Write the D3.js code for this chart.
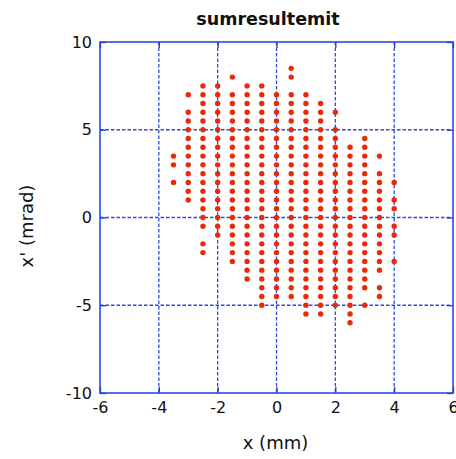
<!DOCTYPE html>
<html>
<head>
<meta charset="utf-8">
<script src="https://cdn.jsdelivr.net/npm/d3@7"></script>
<style>
  html, body { margin: 0; padding: 0; background: #ffffff; }
  svg { display: block; }
  text { font-family: "DejaVu Sans", sans-serif; fill: #111; }
</style>
</head>
<body>
<svg id="chart" width="456" height="459"></svg>
<script>
// Beam emittance sample: one row per x' value (mrad), listing the x positions (mm) hit on that row
const rowY = [8.5, 8, 7.5, 7, 6.5, 6, 5.5, 5, 4.5, 4, 3.5, 3, 2.5, 2, 1.5, 1, 0.5, 0,
              -0.5, -1, -1.5, -2, -2.5, -3, -3.5, -4, -4.5, -5, -5.5, -6];
const rowX = [
  [0.5],
  [-1.5, 0.5],
  [-2.5, -2, -1, -0.5],
  [-3, -2.5, -2, -1.5, -1, -0.5, 0, 0.5, 1],
  [-2.5, -2, -1.5, -1, -0.5, 0, 0.5, 1, 1.5],
  [-3, -2.5, -2, -1.5, -1, -0.5, 0, 0.5, 1, 1.5, 2],
  [-3, -2.5, -2, -1.5, -1, -0.5, 0, 0.5, 1, 1.5],
  [-3, -2.5, -2, -1.5, -1, -0.5, 0, 0.5, 1, 1.5, 2],
  [-3, -2.5, -2, -1.5, -1, -0.5, 0, 0.5, 1, 1.5, 2, 3],
  [-3, -2.5, -2, -1.5, -1, -0.5, 0, 0.5, 1, 1.5, 2, 2.5, 3],
  [-3.5, -3, -2.5, -2, -1.5, -1, -0.5, 0, 0.5, 1, 1.5, 2, 2.5, 3, 3.5],
  [-3.5, -3, -2.5, -2, -1.5, -1, -0.5, 0, 0.5, 1, 1.5, 2, 2.5, 3],
  [-3, -2.5, -2, -1.5, -1, -0.5, 0, 0.5, 1, 1.5, 2, 2.5, 3, 3.5],
  [-3.5, -3, -2.5, -2, -1.5, -1, -0.5, 0, 0.5, 1, 1.5, 2, 2.5, 3, 3.5, 4],
  [-3, -2.5, -2, -1.5, -1, -0.5, 0, 0.5, 1, 1.5, 2, 2.5, 3, 3.5],
  [-3, -2.5, -2, -1.5, -1, -0.5, 0, 0.5, 1, 1.5, 2, 2.5, 3, 3.5, 4],
  [-2.5, -2, -1.5, -1, -0.5, 0, 0.5, 1, 1.5, 2, 2.5, 3, 3.5, 4],
  [-2.5, -2, -1.5, -1, -0.5, 0, 0.5, 1, 1.5, 2, 2.5, 3, 3.5],
  [-2.5, -2, -1.5, -1, -0.5, 0, 0.5, 1, 1.5, 2, 2.5, 3, 3.5, 4],
  [-2, -1.5, -1, -0.5, 0, 0.5, 1, 1.5, 2, 2.5, 3, 3.5, 4],
  [-2.5, -1.5, -1, -0.5, 0, 0.5, 1, 1.5, 2, 2.5, 3, 3.5],
  [-2.5, -1.5, -1, -0.5, 0, 0.5, 1, 1.5, 2, 2.5, 3, 3.5],
  [-1.5, -1, -0.5, 0, 0.5, 1, 1.5, 2, 2.5, 3, 3.5, 4],
  [-1, -0.5, 0, 0.5, 1, 1.5, 2, 2.5, 3, 3.5],
  [-1, -0.5, 0, 0.5, 1, 1.5, 2, 2.5, 3],
  [-0.5, 0, 0.5, 1, 1.5, 2, 2.5, 3, 3.5],
  [-0.5, 0, 0.5, 1, 1.5, 2, 2.5, 3.5],
  [-0.5, 1, 1.5, 2, 2.5, 3],
  [1, 1.5, 2.5],
  [2.5]
];

const xDomain = [-6, 6];
const yDomain = [-10, 10];
const xTicks = [-6, -4, -2, 0, 2, 4, 6];
const yTicks = [-10, -5, 0, 5, 10];
const chartTitle = "sumresultemit";
const xTitle = "x (mm)";
const yTitle = "x' (mrad)";

// Layout
const margin = { left: 100, top: 42 };
const plotW = 353, plotH = 351;
const frameColor = "#1f3fd8";
const gridColor = "#2c4ce2";
const dotColor = "#e82a0c";

const svg = d3.select("#chart");
const g = svg.append("g").attr("transform", `translate(${margin.left},${margin.top})`);

const x = d3.scaleLinear().domain(xDomain).range([0, plotW]);
const y = d3.scaleLinear().domain(yDomain).range([plotH, 0]);

// Plain hyphen-minus tick labels
const tickLabel = d => String(d);

// Dashed interior grid
g.append("g").selectAll("line")
  .data(xTicks.filter(t => t !== xDomain[0] && t !== xDomain[1]))
  .join("line")
  .attr("x1", d => x(d)).attr("x2", d => x(d))
  .attr("y1", 0).attr("y2", plotH)
  .attr("stroke", gridColor).attr("stroke-width", 1.3)
  .attr("stroke-dasharray", "3.5,2");

g.append("g").selectAll("line")
  .data(yTicks.filter(t => t !== yDomain[0] && t !== yDomain[1]))
  .join("line")
  .attr("x1", 0).attr("x2", plotW)
  .attr("y1", d => y(d)).attr("y2", d => y(d))
  .attr("stroke", gridColor).attr("stroke-width", 1.3)
  .attr("stroke-dasharray", "3.5,2");

// Axes with inward ticks on all four sides
function styleAxis(sel) {
  sel.select(".domain").remove();
  sel.selectAll(".tick line").attr("stroke", frameColor).attr("stroke-width", 1.3);
  sel.selectAll(".tick text").attr("font-size", 16).attr("fill", "#111")
     .style("font-family", "'DejaVu Sans', sans-serif");
}

g.append("g").attr("transform", `translate(0,${plotH})`)
  .call(d3.axisBottom(x).tickValues(xTicks).tickSize(-6).tickPadding(9).tickFormat(tickLabel))
  .call(styleAxis);
g.append("g")
  .call(d3.axisTop(x).tickValues(xTicks).tickSize(-6).tickFormat(""))
  .call(styleAxis);
g.append("g")
  .call(d3.axisLeft(y).tickValues(yTicks).tickSize(-6).tickPadding(8).tickFormat(tickLabel))
  .call(styleAxis);
g.append("g").attr("transform", `translate(${plotW},0)`)
  .call(d3.axisRight(y).tickValues(yTicks).tickSize(-6).tickFormat(""))
  .call(styleAxis);

// Plot frame
g.append("rect")
  .attr("x", 0).attr("y", 0).attr("width", plotW).attr("height", plotH)
  .attr("fill", "none").attr("stroke", frameColor).attr("stroke-width", 1.5);

// Data points
const points = rowY.flatMap((yv, i) => rowX[i].map(xv => ({ x: xv, y: yv })));
g.append("g").selectAll("circle")
  .data(points)
  .join("circle")
  .attr("cx", d => x(d.x))
  .attr("cy", d => y(d.y))
  .attr("r", 2.7)
  .attr("fill", dotColor);

// Titles
svg.append("text")
  .attr("x", 268).attr("y", 25)
  .attr("text-anchor", "middle")
  .attr("font-size", 17.5).attr("font-weight", "bold")
  .text(chartTitle);

svg.append("text")
  .attr("x", 275.5).attr("y", 449)
  .attr("text-anchor", "middle")
  .attr("font-size", 18)
  .text(xTitle);

svg.append("text")
  .attr("transform", "translate(33,226) rotate(-90)")
  .attr("text-anchor", "middle")
  .attr("font-size", 18)
  .text(yTitle);
</script>
</body>
</html>
